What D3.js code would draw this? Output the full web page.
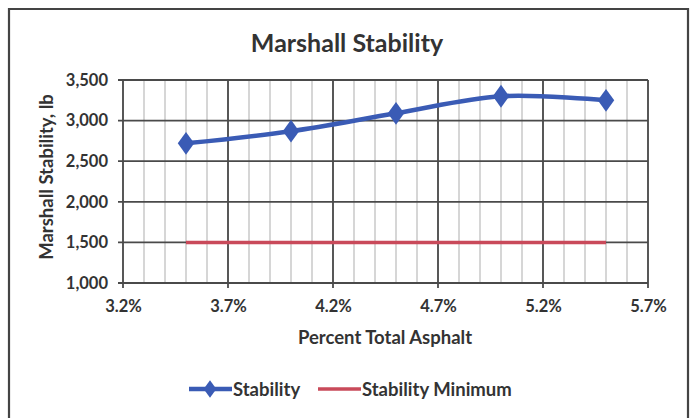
<!DOCTYPE html>
<html>
<head>
<meta charset="utf-8">
<script src="https://cdn.jsdelivr.net/npm/d3@7"></script>
<style>
  html, body { margin: 0; padding: 0; background: #fff; }
  svg { display: block; }
  text { font-family: Lato, "Open Sans", "Liberation Sans", sans-serif; fill: #333; }
</style>
</head>
<body>
<svg id="chart" width="690" height="418"></svg>
<script>
// Asphalt content (%) for each trial mix
const asphaltPct = [3.5, 4.0, 4.5, 5.0, 5.5];
// Measured Marshall stability, lb
const stability = [2720, 2870, 3090, 3300, 3250];
// Specification minimum, lb
const stabilityMin = [1500, 1500, 1500, 1500, 1500];

const xTicks = [3.2, 3.7, 4.2, 4.7, 5.2, 5.7];
const yTicks = [1000, 1500, 2000, 2500, 3000, 3500];
const seriesNames = ["Stability", "Stability Minimum"];

const svg = d3.select("#chart");
const W = 690, H = 418;
const plot = { left: 123, right: 648, top: 80, bottom: 283 };

const x = d3.scaleLinear().domain([3.2, 5.7]).range([plot.left, plot.right]);
const y = d3.scaleLinear().domain([1000, 3500]).range([plot.bottom, plot.top]);

// chart frame
svg.append("path")
  .attr("d", `M9,${H + 2} V9 H688 V${H + 2}`)
  .attr("fill", "none").attr("stroke", "#444").attr("stroke-width", 2.2);

// title
svg.append("text").attr("x", 347).attr("y", 52)
  .attr("text-anchor", "middle").attr("font-size", 25).attr("font-weight", 700)
  .text("Marshall Stability");

const g = svg.append("g");

// minor vertical gridlines every 0.1%
const minor = d3.range(32, 58).map(v => v / 10);
g.append("g").selectAll("line").data(minor).join("line")
  .attr("x1", d => x(d)).attr("x2", d => x(d))
  .attr("y1", plot.top).attr("y2", plot.bottom)
  .attr("stroke", "#bbbbbb").attr("stroke-width", 1.2);

// major gridlines
g.append("g").selectAll("line").data(xTicks).join("line")
  .attr("x1", d => x(d)).attr("x2", d => x(d))
  .attr("y1", plot.top).attr("y2", plot.bottom + 5)
  .attr("stroke", "#4a4a4a").attr("stroke-width", 1.8);
g.append("g").selectAll("line").data(yTicks).join("line")
  .attr("x1", plot.left - 5).attr("x2", plot.right)
  .attr("y1", d => y(d)).attr("y2", d => y(d))
  .attr("stroke", "#4a4a4a").attr("stroke-width", 1.8);

// axes (labels only; lines drawn as gridlines)
const xAxis = d3.axisBottom(x).tickValues(xTicks).tickSize(0).tickPadding(17)
  .tickFormat(d => d3.format(".1f")(d) + "%");
const yAxis = d3.axisLeft(y).tickValues(yTicks).tickSize(0).tickPadding(15)
  .tickFormat(d3.format(","));
const gx = svg.append("g").attr("transform", `translate(0,${plot.bottom})`).call(xAxis);
const gy = svg.append("g").attr("transform", `translate(${plot.left},0)`).call(yAxis);
[gx, gy].forEach(a => {
  a.select(".domain").remove();
  a.selectAll("text").attr("font-size", 16.5).attr("font-weight", 700)
    .style("font-family", "Lato, 'Open Sans', sans-serif").attr("fill", "#333");
});

// axis titles
svg.append("text").attr("x", 385).attr("y", 344)
  .attr("text-anchor", "middle").attr("font-size", 18.5).attr("font-weight", 700)
  .text("Percent Total Asphalt");
svg.append("text")
  .attr("transform", `translate(53,177) rotate(-90)`)
  .attr("text-anchor", "middle").attr("font-size", 18.5).attr("font-weight", 700)
  .text("Marshall Stability, lb");

const blue = "#3a5bb5", red = "#c94a5a";

// minimum line
const straight = d3.line().x((d, i) => x(asphaltPct[i])).y(d => y(d));
svg.append("path").datum(stabilityMin).attr("d", straight)
  .attr("fill", "none").attr("stroke", red).attr("stroke-width", 3.5);

// stability smoothed line
const smooth = d3.line().x((d, i) => x(asphaltPct[i])).y(d => y(d))
  .curve(d3.curveCatmullRom.alpha(0.5));
svg.append("path").datum(stability).attr("d", smooth)
  .attr("fill", "none").attr("stroke", blue).attr("stroke-width", 4.5);

const diamond = d3.symbol().type(d3.symbolDiamond).size(150);
svg.append("g").selectAll("path").data(stability).join("path")
  .attr("transform", (d, i) => `translate(${x(asphaltPct[i])},${y(d)}) scale(1.25,1)`)
  .attr("d", diamond).attr("fill", blue);

// legend
const lg = svg.append("g").attr("transform", "translate(0,389)");
lg.append("line").attr("x1", 189).attr("x2", 232).attr("y1", 0).attr("y2", 0)
  .attr("stroke", blue).attr("stroke-width", 4.5);
lg.append("path").attr("transform", "translate(210,0) scale(1.25,1)")
  .attr("d", d3.symbol().type(d3.symbolDiamond).size(90)).attr("fill", blue);
lg.append("text").attr("x", 233).attr("y", 7).attr("font-size", 18.5).attr("font-weight", 700)
  .text(seriesNames[0]);
lg.append("line").attr("x1", 318).attr("x2", 361).attr("y1", 0).attr("y2", 0)
  .attr("stroke", red).attr("stroke-width", 3.5);
lg.append("text").attr("x", 362).attr("y", 7).attr("font-size", 18.5).attr("font-weight", 700)
  .text(seriesNames[1]);
</script>
</body>
</html>
